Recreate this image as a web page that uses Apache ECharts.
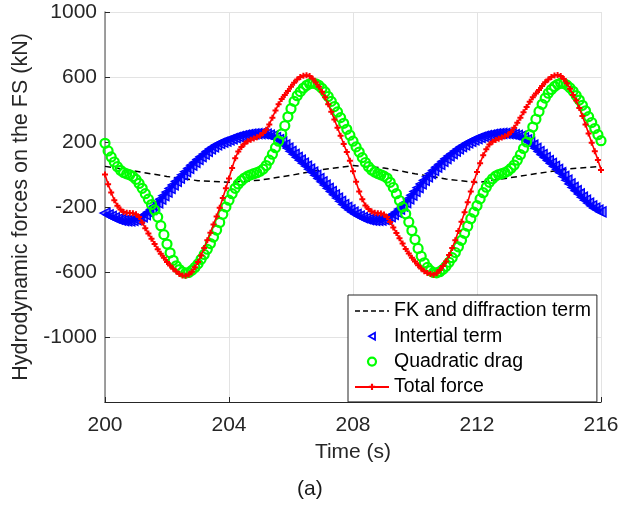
<!DOCTYPE html>
<html><head><meta charset="utf-8">
<script src="https://cdn.jsdelivr.net/npm/echarts@6/dist/echarts.min.js"></script>
<style>html,body{margin:0;padding:0;background:#fff}#c{width:636px;height:511px}</style>
</head><body><div id="c"></div>
<script>
// Time samples (s)
const time = [
200,200.1,200.2,200.3,200.4,200.5,200.6,200.7,200.8,200.9,
201,201.1,201.2,201.3,201.4,201.5,201.6,201.7,201.8,201.9,
202,202.1,202.2,202.3,202.4,202.5,202.6,202.7,202.8,202.9,
203,203.1,203.2,203.3,203.4,203.5,203.6,203.7,203.8,203.9,
204,204.1,204.2,204.3,204.4,204.5,204.6,204.7,204.8,204.9,
205,205.1,205.2,205.3,205.4,205.5,205.6,205.7,205.8,205.9,
206,206.1,206.2,206.3,206.4,206.5,206.6,206.7,206.8,206.9,
207,207.1,207.2,207.3,207.4,207.5,207.6,207.7,207.8,207.9,
208,208.1,208.2,208.3,208.4,208.5,208.6,208.7,208.8,208.9,
209,209.1,209.2,209.3,209.4,209.5,209.6,209.7,209.8,209.9,
210,210.1,210.2,210.3,210.4,210.5,210.6,210.7,210.8,210.9,
211,211.1,211.2,211.3,211.4,211.5,211.6,211.7,211.8,211.9,
212,212.1,212.2,212.3,212.4,212.5,212.6,212.7,212.8,212.9,
213,213.1,213.2,213.3,213.4,213.5,213.6,213.7,213.8,213.9,
214,214.1,214.2,214.3,214.4,214.5,214.6,214.7,214.8,214.9,
215,215.1,215.2,215.3,215.4,215.5,215.6,215.7,215.8,215.9,
216];

// FK and diffraction term (coarser samples)
const fkTime = [200,201,202,203,204,205,206,207,208,209,210,211,212,213,214,215,216];
const fkTerm = [50,20,-12,-38,-48,-35,-5,30,55,40,5,-28,-50,-22,8,35,50];

// Inertial term (kN)
const inertialTerm = [
-237,-248,-258,-267,-275,-280,-284,-286,-286,-283,
-278,-270,-260,-247,-232,-214,-195,-174,-152,-130,
-108,-86,-64,-42,-22,-2,18,38,57,75,
93,110,126,142,157,170,182,191,199,206,
213,220,227,233,238,242,246,248,250,251,
252,251,248,243,236,227,215,200,182,163,
143,124,106,88,70,52,33,14,-5,-25,
-45,-65,-85,-105,-125,-145,-165,-185,-203,-218,
-232,-245,-256,-265,-272,-277,-280,-282,-282,-280,
-276,-269,-259,-246,-231,-213,-194,-173,-150,-127,
-104,-81,-58,-36,-14,6,26,45,63,81,
98,114,129,144,158,171,183,194,204,213,
221,228,234,239,243,247,250,252,253,253,
252,250,246,241,234,225,213,198,180,161,
141,122,104,86,68,50,31,11,-12,-35,
-58,-80,-100,-120,-140,-158,-176,-193,-207,-219,
-230];

// Quadratic drag (kN)
const quadraticDrag = [
192,145,108,77,48,26,12,4,-2,-12,
-30,-55,-85,-118,-152,-185,-218,-262,-315,-370,
-428,-482,-528,-562,-585,-600,-607,-603,-590,-572,
-550,-522,-492,-460,-425,-385,-342,-295,-245,-200,
-158,-118,-85,-58,-38,-22,-10,-2,5,11,
20,33,55,88,125,165,205,250,300,355,
405,450,485,510,532,548,558,562,558,548,
530,508,480,450,418,385,350,315,278,242,
205,170,138,104,74,48,28,15,6,-2,
-10,-22,-48,-80,-118,-160,-200,-242,-292,-345,
-400,-455,-503,-543,-572,-592,-603,-605,-598,-584,
-565,-540,-512,-480,-445,-405,-362,-318,-272,-232,
-192,-150,-112,-78,-48,-26,-10,0,6,12,
22,38,58,88,122,160,200,245,292,340,
388,432,470,500,523,542,555,562,560,550,
533,512,486,458,426,392,356,320,283,245,
208];

// Total force (kN)
const totalForce = [
0,-60,-110,-158,-192,-215,-230,-235,-237,-239,
-245,-262,-295,-330,-363,-395,-427,-460,-487,-512,
-538,-560,-580,-597,-612,-622,-623,-616,-598,-570,
-538,-498,-452,-405,-358,-308,-258,-205,-145,-85,
-25,40,100,142,170,190,204,214,222,230,
240,255,275,308,350,394,433,465,490,514,
540,565,585,600,608,611,606,590,566,540,
510,475,432,386,338,288,238,188,138,85,
20,-45,-105,-152,-190,-213,-228,-235,-238,-240,
-246,-262,-292,-326,-360,-393,-425,-458,-486,-512,
-536,-558,-578,-595,-606,-613,-617,-608,-588,-563,
-535,-496,-452,-405,-348,-290,-232,-170,-105,-45,
15,70,118,155,185,202,212,220,228,236,
245,262,288,318,350,383,415,447,475,498,
520,545,567,585,600,610,612,606,588,562,
528,490,455,410,360,308,252,196,143,90,
28];

const seriesNames = ['FK and diffraction term','Intertial term','Quadratic drag','Total force'];
const xTicks = {min:200, max:216, step:4};
const yTicks = {min:-1400, max:1000, step:400, hidden:[-1400]};

const FONT = '"Liberation Sans", Arial, Helvetica, sans-serif';
const pairs = (ts, vs) => ts.map((t, i) => [t, vs[i]]);

const chart = echarts.init(document.getElementById('c'), null, {renderer: 'canvas'});
chart.setOption({
  animation: false,
  backgroundColor: '#fff',
  textStyle: {fontFamily: FONT},
  grid: {left: 105, right: 35, top: 12, bottom: 109, containLabel: false},
  xAxis: {
    type: 'value', min: xTicks.min, max: xTicks.max, interval: xTicks.step,
    name: 'Time (s)', nameLocation: 'middle', nameGap: 40,
    nameTextStyle: {fontSize: 21, color: '#262626', fontFamily: FONT},
    axisLine: {show: true, onZero: false, lineStyle: {color: '#262626', width: 1.2}},
    axisTick: {show: true, inside: true, length: 5, lineStyle: {color: '#262626'}},
    axisLabel: {fontSize: 21, color: '#262626', margin: 13, fontFamily: FONT},
    splitLine: {show: true, lineStyle: {color: '#e3e3e3', width: 1}}
  },
  yAxis: {
    type: 'value', min: yTicks.min, max: yTicks.max, interval: yTicks.step,
    name: 'Hydrodynamic forces on the FS (kN)', nameLocation: 'middle', nameGap: 67,
    nameTextStyle: {fontSize: 21.5, color: '#262626', fontFamily: FONT},
    axisLine: {show: true, onZero: false, lineStyle: {color: '#808080', width: 1.5}},
    axisTick: {show: true, inside: true, length: 5, lineStyle: {color: '#262626'}},
    axisLabel: {fontSize: 21, color: '#262626', margin: 8, fontFamily: FONT,
      formatter: v => yTicks.hidden.includes(v) ? '' : String(v)},
    splitLine: {show: true, lineStyle: {color: '#e3e3e3', width: 1}}
  },
  legend: {
    orient: 'vertical', left: 348, top: 295,
    padding: [6, 6, 5, 6], itemGap: 5.3, itemWidth: 34, itemHeight: 8,
    backgroundColor: '#fff', borderColor: '#262626', borderWidth: 1, borderRadius: 0,
    selectedMode: false,
    textStyle: {fontSize: 19.5, lineHeight: 20, color: '#000', fontFamily: FONT},
    data: [
      {name: seriesNames[0], icon: 'path://M0,0h5v1.3h-5zM8,0h5v1.3h-5zM16,0h5v1.3h-5zM24,0h5v1.3h-5zM32,0h2v1.3h-2z',
        itemStyle: {color: '#000', borderWidth: 0}},
      {name: seriesNames[1], icon: 'path://M0,0M34,0M34,8M0,8M14,4L20,0.5L20,7.5Z',
        itemStyle: {color: 'rgba(0,0,255,0)', borderColor: '#0000ff', borderWidth: 1.8}},
      {name: seriesNames[2], icon: 'circle',
        itemStyle: {color: 'rgba(0,255,0,0)', borderColor: '#00ff00', borderWidth: 2.2}},
      {name: seriesNames[3]}
    ]
  },
  graphic: [{type: 'text', left: 297, top: 479, silent: true,
    style: {text: '(a)', fontSize: 21, fontFamily: FONT, fill: '#1a1a1a'}}],
  series: [
    {
      name: seriesNames[0], type: 'line', data: pairs(fkTime, fkTerm),
      symbol: 'none', smooth: false, silent: true, z: 2,
      color: '#000',
      lineStyle: {color: '#000', width: 1.5, type: [6, 4]}
    },
    {
      name: seriesNames[1], type: 'line', data: pairs(time, inertialTerm),
      symbol: 'path://M0,5L10,0L10,10Z', symbolSize: [10, 10], showAllSymbol: true,
      silent: true, z: 3, color: '#0000ff',
      itemStyle: {color: 'rgba(0,0,255,0.5)', borderColor: '#0000ff', borderWidth: 1.4},
      lineStyle: {color: '#0000ff', width: 4}
    },
    {
      name: seriesNames[2], type: 'line', data: pairs(time, quadraticDrag),
      symbol: 'circle', symbolSize: 9, showAllSymbol: true,
      silent: true, z: 4, color: '#00ff00',
      itemStyle: {color: 'rgba(0,255,0,0)', borderColor: '#00ff00', borderWidth: 2.2},
      lineStyle: {color: '#00ff00', width: 0, opacity: 0}
    },
    {
      name: seriesNames[3], type: 'line', data: pairs(time, totalForce),
      symbol: 'path://M2,0H4V2H6V4H4V6H2V4H0V2H2Z', symbolSize: 6, showAllSymbol: true,
      silent: true, z: 5, color: '#ff0000',
      itemStyle: {color: '#ff0000', borderWidth: 0},
      lineStyle: {color: '#ff0000', width: 1.6}
    }
  ]
});
</script>
</body></html>
